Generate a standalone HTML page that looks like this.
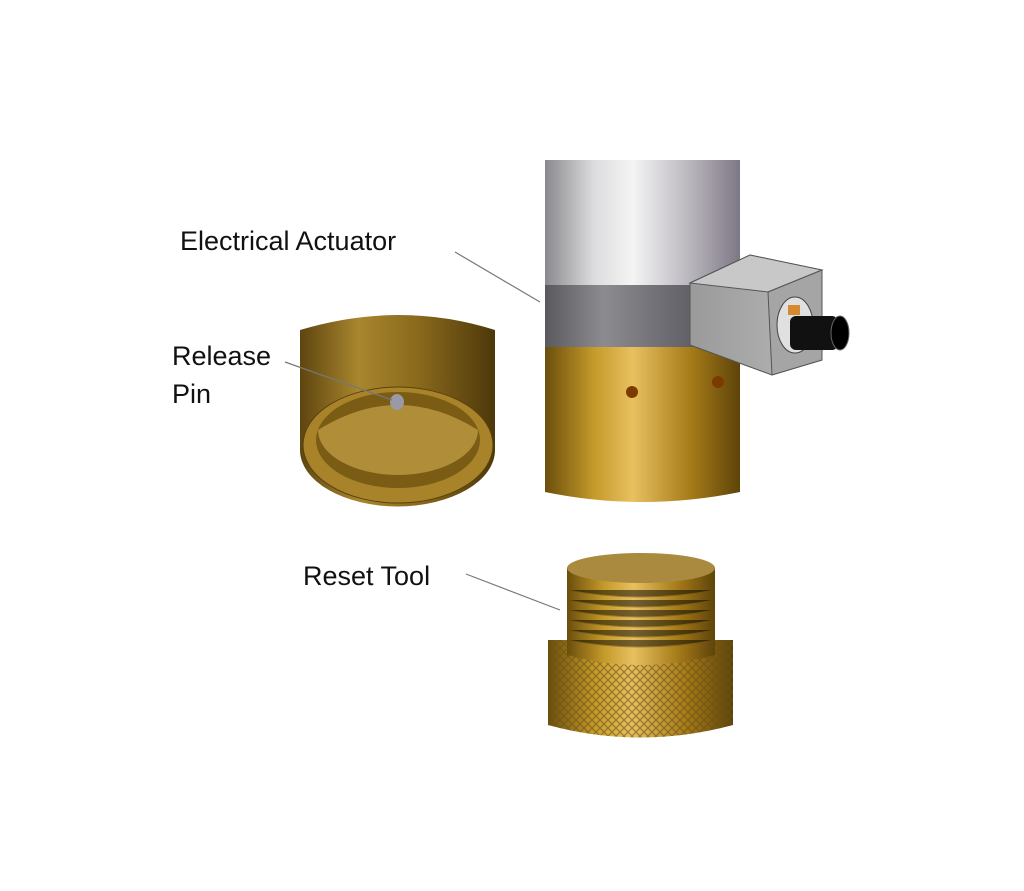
<!DOCTYPE html>
<html><head><style>
body{margin:0;background:#fff;}
svg{display:block}
text{font-family:"Liberation Sans",sans-serif;font-size:27px;fill:#111}
</style></head><body>
<svg width="1024" height="891" viewBox="0 0 1024 891">
<defs>
<linearGradient id="silver" x1="0" x2="1">
<stop offset="0" stop-color="#8a8a8e"/><stop offset="0.25" stop-color="#dcdcde"/><stop offset="0.45" stop-color="#f4f4f4"/><stop offset="0.75" stop-color="#b8b4bc"/><stop offset="1" stop-color="#7d7885"/></linearGradient>
<linearGradient id="dark" x1="0" x2="1">
<stop offset="0" stop-color="#5a5a5e"/><stop offset="0.3" stop-color="#8c8c90"/><stop offset="0.6" stop-color="#6e6e74"/><stop offset="1" stop-color="#4a4a50"/></linearGradient>
<linearGradient id="gold" x1="0" x2="1">
<stop offset="0" stop-color="#6b4e0c"/><stop offset="0.25" stop-color="#c49a2a"/><stop offset="0.45" stop-color="#e8c060"/><stop offset="0.75" stop-color="#a57a18"/><stop offset="1" stop-color="#5e440a"/></linearGradient>
<linearGradient id="gold2" x1="0" x2="1">
<stop offset="0" stop-color="#5e4510"/><stop offset="0.3" stop-color="#a8862e"/><stop offset="0.6" stop-color="#8a6a1c"/><stop offset="1" stop-color="#4c380a"/></linearGradient>
<linearGradient id="box" x1="0" x2="1">
<stop offset="0" stop-color="#9a9a9a"/><stop offset="1" stop-color="#b8b8b8"/></linearGradient>
<pattern id="knurl" width="8" height="8" patternUnits="userSpaceOnUse">
<path d="M0 0L8 8M8 0L0 8" stroke="#6a5014" stroke-width="1.3" opacity="0.6"/></pattern>
</defs>

<!-- main actuator -->
<rect x="545" y="160" width="195" height="125" fill="url(#silver)"/>
<rect x="545" y="285" width="195" height="62" fill="url(#dark)"/>
<path d="M545 347 H740 V492 Q642 512 545 492 Z" fill="url(#gold)"/>
<circle cx="632" cy="392" r="6" fill="#7a3a00"/>
<circle cx="718" cy="382" r="6" fill="#7a3a00"/>
<!-- connector box -->
<polygon points="690,283 750,255 822,270 822,360 772,375 690,345" fill="url(#box)" stroke="#555" stroke-width="1"/>
<polygon points="690,283 750,255 822,270 768,292" fill="#c8c8c8" stroke="#555" stroke-width="1"/>
<polygon points="768,292 822,270 822,360 772,375" fill="#a5a5a5" stroke="#555" stroke-width="1"/>
<ellipse cx="795" cy="325" rx="18" ry="28" fill="#e0e0e0" stroke="#444"/>
<rect x="790" y="316" width="48" height="34" rx="6" fill="#111"/>
<ellipse cx="840" cy="333" rx="9" ry="17" fill="#000" stroke="#666"/>
<rect x="788" y="305" width="12" height="10" fill="#d58a30"/>

<!-- release cup -->
<path d="M300 330 Q400 300 495 330 V450 A95 55 0 0 1 300 450 Z" fill="url(#gold2)"/>
<ellipse cx="398" cy="445" rx="95" ry="58" fill="#a8832a" stroke="#5a420c"/>
<ellipse cx="398" cy="440" rx="82" ry="48" fill="#7a5c14"/>
<path d="M318 430 Q398 380 478 430 A80 45 0 0 1 318 430Z" fill="#b08d38"/>
<ellipse cx="397" cy="402" rx="7" ry="8" fill="#9a9aa6"/>

<!-- reset tool -->
<path d="M548 640 H733 V725 Q640 750 548 725 Z" fill="url(#gold)"/>
<path d="M548 640 H733 V725 Q640 750 548 725 Z" fill="url(#knurl)"/>
<path d="M567 568 H715 V655 Q641 675 567 655 Z" fill="url(#gold)"/>
<g stroke="#6a5014" stroke-width="1" opacity="0.5">
<path d="M567 590 Q641 604 715 590M567 600 Q641 614 715 600M567 610 Q641 624 715 610M567 620 Q641 634 715 620M567 630 Q641 644 715 630M567 640 Q641 654 715 640"/></g>
<ellipse cx="641" cy="568" rx="74" ry="15" fill="#a98a3e"/>

<!-- labels -->
<text x="180" y="250">Electrical Actuator</text>
<text x="172" y="365">Release</text>
<text x="172" y="403">Pin</text>
<text x="303" y="585">Reset Tool</text>
<g stroke="#777" stroke-width="1.2">
<line x1="455" y1="252" x2="540" y2="302"/>
<line x1="285" y1="362" x2="392" y2="400"/>
<line x1="466" y1="574" x2="560" y2="610"/>
</g>
</svg>
</body></html>
